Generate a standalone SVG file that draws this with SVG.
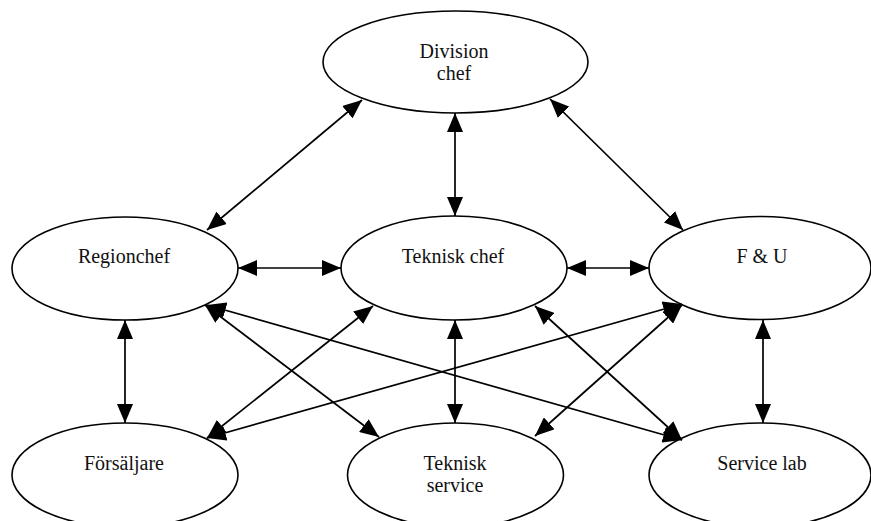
<svg xmlns="http://www.w3.org/2000/svg" width="871" height="521" viewBox="0 0 871 521">
<style>
.n ellipse{fill:#fff;stroke:#000;stroke-width:1.6}
.n text{font-family:'Liberation Serif','Times New Roman',serif;font-size:20px;fill:#111;text-anchor:middle}
#edges line{stroke:#000;stroke-width:1.7;marker-start:url(#ah);marker-end:url(#ah)}
</style>
<defs>
<marker id="ah" markerUnits="userSpaceOnUse" markerWidth="20" markerHeight="16" refX="19" refY="8" orient="auto-start-reverse" viewBox="0 0 20 16">
<path d="M0,0 L19,8 L0,16 z" fill="#000"/>
</marker>
</defs>
<g id="nodes">
<g id="division" class="n"><ellipse cx="455.5" cy="62" rx="132.5" ry="51"/><text x="454" y="58">Division</text><text x="454" y="80">chef</text></g>
<g id="regionchef" class="n"><ellipse cx="125" cy="268.5" rx="113" ry="51.5"/><text x="124" y="263">Regionchef</text></g>
<g id="tekniskchef" class="n"><ellipse cx="454" cy="268" rx="113" ry="52"/><text x="453" y="263">Teknisk chef</text></g>
<g id="fu" class="n"><ellipse cx="760" cy="268" rx="111" ry="51.5"/><text x="762" y="263">F &amp; U</text></g>
<g id="forsaljare" class="n"><ellipse cx="125" cy="475" rx="113" ry="52"/><text x="124" y="470">Försäljare</text></g>
<g id="teknisksvc" class="n"><ellipse cx="455.5" cy="475" rx="108" ry="52"/><text x="455" y="470">Teknisk</text><text x="455" y="492">service</text></g>
<g id="servicelab" class="n"><ellipse cx="760" cy="475" rx="111" ry="52"/><text x="762" y="470">Service lab</text></g>
</g>
<g id="edges">
<line x1="362" y1="100" x2="207" y2="230"/>
<line x1="455" y1="113" x2="455" y2="216"/>
<line x1="550" y1="99" x2="683" y2="230"/>
<line x1="238" y1="268" x2="341" y2="268"/>
<line x1="567" y1="268" x2="649" y2="268"/>
<line x1="125" y1="320" x2="125" y2="423"/>
<line x1="455" y1="320" x2="455" y2="423"/>
<line x1="763" y1="320" x2="763" y2="423"/>
<line x1="205" y1="305" x2="379" y2="437"/>
<line x1="207" y1="305" x2="682" y2="440"/>
<line x1="373" y1="306" x2="207" y2="438"/>
<line x1="535" y1="306" x2="682" y2="440"/>
<line x1="682" y1="304" x2="207" y2="438"/>
<line x1="682" y1="305" x2="535" y2="436"/>
</g>
</svg>
